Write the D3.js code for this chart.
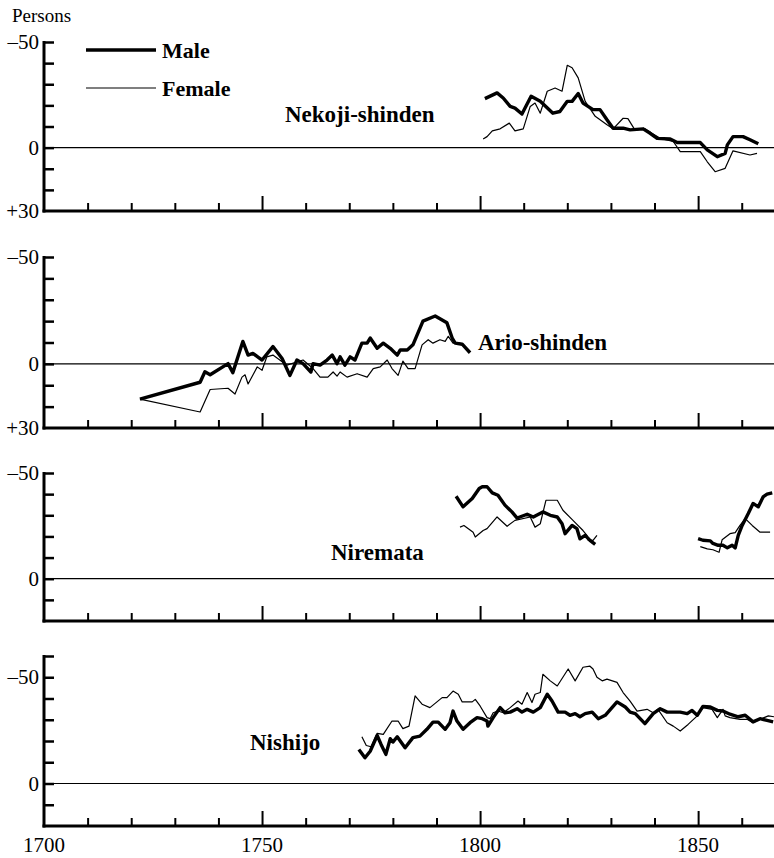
<!DOCTYPE html>
<html>
<head>
<meta charset="utf-8">
<script src="https://cdn.jsdelivr.net/npm/d3@7"></script>
<style>
body { margin: 0; background: #fff; }
</style>
</head>
<body>
<svg width="774" height="858" font-family="'Liberation Serif', 'DejaVu Serif', serif"></svg>
<script>
// ---- data (year, persons) ----
const nekojiMale = [[1801.1,-23.2],[1803.9,-25.9],[1805.3,-23.5],[1806.9,-19.5],[1808,-18.7],[1809.6,-15.9],[1811.7,-24.3],[1813.8,-21.9],[1816.7,-16.3],[1818.3,-17.1],[1820,-21.9],[1821.1,-21.9],[1822.5,-25.6],[1823.6,-21.1],[1825.9,-18],[1827.5,-18],[1829.1,-13.2],[1830.5,-9.2],[1832.8,-9.2],[1834.4,-8.4],[1837.4,-8.9],[1839,-6.8],[1840.6,-4.4],[1843.6,-4.1],[1845.2,-2.4],[1850.5,-2.4],[1852.1,1.1],[1854.4,4.3],[1856.2,2.7],[1856.7,-1.3],[1858,-5.2],[1860.3,-5.2],[1861.9,-3.7],[1863.8,-1.8]];
const nekojiFemale = [[1800.7,-4.1],[1801.6,-5.2],[1802.8,-7.9],[1804.6,-8.9],[1806.7,-11.6],[1808,-7.9],[1809.9,-8.9],[1811.5,-19.5],[1812.6,-21.1],[1813.8,-16.3],[1815.4,-26.7],[1817.2,-28.2],[1818.8,-26.7],[1820,-39],[1821.1,-37.8],[1822.5,-33],[1824.1,-21.9],[1826.4,-14.8],[1829.1,-10.8],[1830.5,-8.9],[1832.8,-13.9],[1833.9,-13.7],[1835.5,-8.4],[1837.8,-8.9],[1839.4,-6.8],[1841.3,-4.4],[1844.3,-2.9],[1845.9,1.9],[1850.5,1.9],[1852.1,6.7],[1853.9,11.4],[1856.2,9.8],[1858,1.5],[1861.9,3.5],[1863.5,2.7]];

const arioMale = [[1722,16.5],[1735.8,8.6],[1736.9,3.7],[1738.1,5.1],[1742.2,-0.1],[1743.3,4.1],[1745.6,-10.5],[1746.8,-4.1],[1747.9,-4.9],[1750,-1.8],[1752.5,-8.1],[1754.6,-2.5],[1756.4,5.4],[1758,-1.8],[1759.4,-0.1],[1761.2,3.8],[1761.7,-0.1],[1763.3,0.6],[1764.9,-1.8],[1766.1,-4.1],[1767.2,-0.1],[1767.9,-3.3],[1769,0.6],[1770.2,-3.3],[1771.3,-1.8],[1772.9,-9.7],[1774.1,-9.7],[1774.8,-12.1],[1776.4,-7.3],[1777.8,-9.7],[1779.4,-7.3],[1781,-4.1],[1781.7,-6.5],[1783.3,-6.5],[1784.6,-8.9],[1786.9,-20],[1789.7,-22.4],[1792.4,-19.2],[1793.6,-12.1],[1794.3,-9.7],[1795.9,-9.2],[1797.7,-5.2]];
const arioFemale = [[1722,16.5],[1735.8,22.5],[1738.1,12],[1742.2,11.4],[1743.8,14.1],[1745.4,6.2],[1746.1,5.1],[1746.8,9.4],[1748.9,1.4],[1750,3],[1751.1,-3.3],[1752.5,-4.1],[1755.7,0.6],[1759.4,-1.8],[1761.7,2.2],[1763.3,6.2],[1765.1,6.2],[1766.3,3.8],[1767.2,5.7],[1767.9,3.8],[1769.5,6.2],[1771.8,4.6],[1774.1,6.2],[1775.5,2.2],[1777.1,1.4],[1778.7,-1.8],[1779.8,2.2],[1781.2,5.4],[1782.3,-1.3],[1783.5,2.2],[1785.1,2.2],[1786.7,-8.9],[1788.1,-11.3],[1789.2,-9.7],[1790.8,-11.3],[1792,-10.5],[1792.7,-12.9],[1793.8,-9.7],[1795.4,-9.7],[1797.7,-5.7]];

// Niremata has two separate runs of data
const niremataMale1 = [[1794.5,-39],[1796.1,-34],[1798.2,-37.9],[1799.8,-42.7],[1800.5,-43.5],[1801.6,-43.5],[1802.8,-40.6],[1804.1,-39.5],[1805.7,-34.8],[1807.3,-31.6],[1808.5,-28.7],[1810.8,-30.5],[1812.2,-29.2],[1814.4,-31.6],[1816.1,-30],[1817.7,-29.2],[1818.8,-26],[1819.5,-21.3],[1821.1,-25.2],[1822.2,-23.7],[1822.9,-18.9],[1824.1,-20.5],[1825.2,-18.1],[1826.4,-16.2]];
const niremataFemale1 = [[1795.4,-24.4],[1796.3,-25.2],[1798.4,-22],[1798.9,-19.7],[1800.7,-22.8],[1801.6,-23.7],[1803.9,-29.2],[1806.2,-24.8],[1808,-27.6],[1811.5,-29.2],[1812.6,-24.4],[1813.8,-26],[1815.1,-37.1],[1817.7,-37.1],[1819,-32.4],[1821.3,-27.6],[1823.6,-22.8],[1824.5,-20.5],[1824.8,-18.1],[1825.9,-18.1],[1826.8,-20.5]];
const niremataMale2 = [[1850,-19],[1851.1,-18.2],[1852.8,-17.9],[1853.4,-16.7],[1854.6,-15.8],[1855.7,-15.8],[1856.7,-14.6],[1857.8,-15.8],[1858.5,-14.6],[1859.2,-20.5],[1860.1,-25.2],[1861.5,-30.8],[1862.6,-35.6],[1863.8,-34],[1864.9,-38.7],[1865.8,-40],[1867,-40.6]];
const niremataFemale2 = [[1850.5,-15.2],[1852.1,-14.1],[1853.4,-13.7],[1854.8,-12.5],[1855.5,-18.4],[1857.3,-21.3],[1858.5,-21.8],[1859.6,-25.2],[1860.8,-28.4],[1862.4,-25.2],[1864.2,-22],[1866.5,-22]];

const nishijoMale = [[1772.2,-16],[1773.6,-12.1],[1774.8,-15.2],[1776.4,-22.6],[1777.3,-18.4],[1778.4,-13.7],[1779.4,-21.1],[1780,-19.5],[1781,-22],[1782.8,-16.8],[1784.6,-21.6],[1786.2,-22.3],[1787.8,-25.5],[1789.2,-28.9],[1790.4,-28.9],[1792,-25.5],[1793.1,-28.6],[1793.8,-34.1],[1794.7,-29.4],[1796.1,-25.5],[1797.7,-28.6],[1799.3,-31],[1800.5,-30.5],[1801.6,-29.4],[1801.8,-27],[1803,-31],[1804.6,-35.7],[1805.7,-33.3],[1806.9,-33.6],[1808.5,-35.2],[1809.6,-33.6],[1810.8,-34.9],[1812.2,-33.6],[1813.8,-35.7],[1815.4,-42],[1816.5,-38.8],[1817.9,-33.6],[1819.5,-33.6],[1820.6,-32.1],[1821.8,-32.9],[1822.9,-31.4],[1824.1,-32.9],[1825.7,-33.6],[1827.1,-30.5],[1828.7,-32.1],[1831.4,-38.4],[1833.3,-36],[1834.4,-33.6],[1835.6,-32.9],[1837.8,-28.2],[1839.7,-32.9],[1841.3,-35.2],[1842.9,-33.6],[1844.3,-33.6],[1845.9,-33.6],[1847.5,-32.9],[1848.6,-34.4],[1849.8,-32.1],[1851.1,-36.3],[1852.8,-36],[1854.4,-34.4],[1855.7,-34.1],[1857.3,-32.6],[1859.2,-31.4],[1860.8,-32.1],[1862.6,-29],[1864.2,-30.5],[1865.8,-29.7],[1867.2,-29]];
const nishijoFemale = [[1772.9,-22],[1773.9,-17.9],[1775,-17.3],[1776.4,-23.6],[1777.8,-23.1],[1779.8,-29.4],[1781.2,-29.4],[1782.3,-25.8],[1783.7,-27],[1785.1,-41.2],[1786.7,-37.3],[1788.5,-35.7],[1791.3,-40.4],[1792.4,-40.4],[1793.8,-43.5],[1795,-42],[1795.9,-38.4],[1798.2,-38.4],[1798.9,-39.6],[1800,-36.5],[1801.6,-31],[1802.3,-30.5],[1803,-33.3],[1804.1,-34.1],[1805.3,-33.3],[1806.9,-35.7],[1808.7,-38.8],[1809.6,-37.3],[1810.8,-42.8],[1811.9,-38.1],[1812.6,-42],[1813.8,-42.8],[1814.4,-51.4],[1816.1,-48.3],[1817.7,-45.9],[1820.2,-53.9],[1821.8,-48.3],[1823.6,-54.7],[1825.2,-55.2],[1825.9,-53.9],[1826.8,-50],[1828,-48.3],[1829.1,-49.1],[1831.4,-47.6],[1832.8,-42.8],[1834.4,-38.8],[1836,-34.1],[1838.3,-34.9],[1839.7,-33.3],[1840.8,-34.9],[1842.9,-28.6],[1844.3,-27],[1845.9,-24.7],[1847.7,-27.8],[1849.8,-31.8],[1851.1,-35.7],[1853.2,-34.9],[1854.4,-31],[1855.7,-34.9],[1856.2,-31.8],[1857.3,-31],[1859.6,-30.2],[1861.2,-30.2],[1862.6,-28.6],[1864.2,-30.2],[1866.1,-31.8],[1867.4,-31.4]];

const xTickYears = d3.range(1700, 1870, 10);
const xMajorYears = [1750, 1800, 1850];
const xLabelYears = [1700, 1750, 1800, 1850];
const legendLabels = ["Male", "Female"];

// ---- layout ----
let svg = d3.select("svg");

let x = d3.scaleLinear().domain([1700, 1867.4]).range([44, 774]);

let panels = [
  { name: "Nekoji-shinden", dom: [-50, 30], rng: [42, 211], yLabels: [-50, 0, 30],
    male: [nekojiMale], female: [nekojiFemale], lx: 285, ly: 122 },
  { name: "Ario-shinden", dom: [-50, 30], rng: [257, 428], yLabels: [-50, 0, 30],
    male: [arioMale], female: [arioFemale], lx: 478, ly: 350 },
  { name: "Niremata", dom: [-50, 20], rng: [473, 621], yLabels: [-50, 0],
    male: [niremataMale1, niremataMale2], female: [niremataFemale1, niremataFemale2], lx: 331, ly: 560 },
  { name: "Nishijo", dom: [-60, 20], rng: [656, 826], yLabels: [-50, 0],
    male: [nishijoMale], female: [nishijoFemale], lx: 250, ly: 750 }
];

function fmt(v) {
  if (v < 0) return "\u2013" + Math.abs(v);
  if (v > 0) return "+" + v;
  return "0";
}

panels.forEach(function (p) {
  let y = d3.scaleLinear().domain(p.dom).range(p.rng);
  let g = svg.append("g");
  let yBottom = p.rng[1];

  // ligne du zéro
  g.append("line")
    .attr("x1", x(1700)).attr("x2", 774)
    .attr("y1", y(0)).attr("y2", y(0))
    .attr("stroke", "#000").attr("stroke-width", 1.2);

  // y ticks (every 10)
  let yTicks = d3.range(p.dom[0], p.dom[1], 10);
  g.append("g")
    .attr("transform", "translate(" + x(1700) + ",0)")
    .call(d3.axisLeft(y).tickValues(yTicks).tickSizeInner(-10).tickSizeOuter(0)
      .tickFormat(() => ""))
    .call(a => a.select(".domain").remove())
    .call(a => a.selectAll(".tick line").attr("stroke-width", 2.5));

  // y labels
  g.selectAll("text.ylab")
    .data(p.yLabels)
    .enter().append("text")
    .attr("class", "ylab")
    .attr("x", 39)
    .attr("y", d => y(d) + 7)
    .attr("text-anchor", "end")
    .style("font-size", "21px")
    .text(fmt);

  // x ticks, minor and major, pointing up
  g.append("g")
    .attr("transform", "translate(0," + yBottom + ")")
    .call(d3.axisBottom(x).tickValues(xTickYears.filter(d => d > 1700 && xMajorYears.indexOf(d) < 0))
      .tickSizeInner(-8).tickSizeOuter(0).tickFormat(() => ""))
    .call(a => a.select(".domain").remove())
    .call(a => a.selectAll(".tick line").attr("stroke-width", 2));
  g.append("g")
    .attr("transform", "translate(0," + yBottom + ")")
    .call(d3.axisBottom(x).tickValues(xMajorYears)
      .tickSizeInner(-15).tickSizeOuter(0).tickFormat(() => ""))
    .call(a => a.select(".domain").remove())
    .call(a => a.selectAll(".tick line").attr("stroke-width", 2));

  // cadre
  g.append("line")
    .attr("x1", x(1700)).attr("x2", x(1700))
    .attr("y1", p.rng[0] - 1).attr("y2", yBottom + 1.5)
    .attr("stroke", "#000").attr("stroke-width", 3);
  g.append("line")
    .attr("x1", x(1700) - 1.5).attr("x2", 774)
    .attr("y1", yBottom).attr("y2", yBottom)
    .attr("stroke", "#000").attr("stroke-width", 3);

  let ln = d3.line().x(d => x(d[0])).y(d => y(d[1]));

  p.female.forEach(function (s) {
    g.append("path").datum(s)
      .attr("d", ln)
      .attr("fill", "none").attr("stroke", "#000")
      .attr("stroke-width", 1.2).attr("stroke-linejoin", "round");
  });
  p.male.forEach(function (s) {
    g.append("path").datum(s)
      .attr("d", ln)
      .attr("fill", "none").attr("stroke", "#000")
      .attr("stroke-width", 3.4).attr("stroke-linejoin", "round");
  });

  // nom du village
  g.append("text")
    .attr("x", p.lx).attr("y", p.ly)
    .style("font-size", "23px").style("font-weight", "bold")
    .text(p.name);
});

// x labels under the last panel
svg.selectAll("text.xlab")
  .data(xLabelYears)
  .enter().append("text")
  .attr("class", "xlab")
  .attr("x", d => x(d))
  .attr("y", 852)
  .attr("text-anchor", "middle")
  .style("font-size", "21px")
  .text(d => d);

svg.append("text")
  .attr("x", 12).attr("y", 22)
  .style("font-size", "19px")
  .text("Persons");

// légende
let legend = svg.append("g");
legend.selectAll("line")
  .data(legendLabels)
  .enter().append("line")
  .attr("x1", 86).attr("x2", 156)
  .attr("y1", (d, i) => 50 + i * 38).attr("y2", (d, i) => 50 + i * 38)
  .attr("stroke", "#000")
  .attr("stroke-width", (d, i) => i == 0 ? 3.4 : 1.2);
legend.selectAll("text")
  .data(legendLabels)
  .enter().append("text")
  .attr("x", 162)
  .attr("y", (d, i) => 58 + i * 38)
  .style("font-size", "22px").style("font-weight", "bold")
  .text(d => d);
</script>
</body>
</html>
